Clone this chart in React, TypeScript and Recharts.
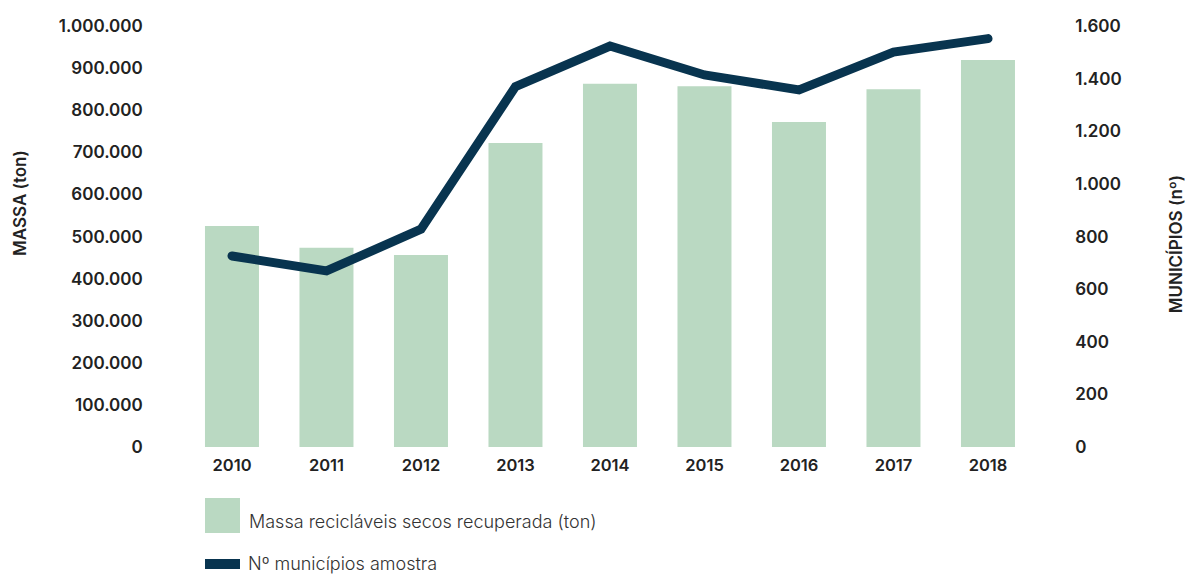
import React from 'react';
import { ComposedChart, Bar, Line, XAxis, YAxis, Legend } from 'recharts';

const years = ['2010', '2011', '2012', '2013', '2014', '2015', '2016', '2017', '2018'];
const massa = [525000, 473000, 456000, 722000, 863000, 857000, 772000, 850000, 919000];
const municipios = [726, 669, 828, 1370, 1524, 1414, 1357, 1501, 1552];
const leftTicks = [0, 100000, 200000, 300000, 400000, 500000, 600000, 700000, 800000, 900000, 1000000];
const rightTicks = [0, 200, 400, 600, 800, 1000, 1200, 1400, 1600];

const data = years.map((y, i) => ({ year: y, massa: massa[i], mun: municipios[i] }));

const BAR = '#bad9c2';
const LINE = '#08344f';
const FONT = 'Inter, "Noto Sans", sans-serif';

const fmt = (v: number) => v.toLocaleString('de-DE');

const renderLegend = () => (
  <div style={{ position: 'relative', width: 600, height: 76, fontFamily: FONT }}>
    <div style={{ position: 'absolute', left: 0, top: 0, width: 35, height: 35, background: BAR }} />
    <div style={{ position: 'absolute', left: 44, top: 12, fontSize: 18, fontWeight: 300, color: '#333', whiteSpace: 'nowrap', lineHeight: '24px' }}>
      Massa recicláveis secos recuperada (ton)
    </div>
    <div style={{ position: 'absolute', left: 0, top: 61, width: 35, height: 10, background: LINE }} />
    <div style={{ position: 'absolute', left: 43, top: 54, fontSize: 18, fontWeight: 300, color: '#333', whiteSpace: 'nowrap', lineHeight: '24px' }}>
      Nº municípios amostra
    </div>
  </div>
);

const LeftLabel = () => (
  <text x={20} y={203} transform="rotate(-90 20 203)" textAnchor="middle" dominantBaseline="central"
    style={{ fontFamily: FONT, fontSize: 17, fontWeight: 600, fill: '#222' }}>MASSA (ton)</text>
);
const RightLabel = () => (
  <text x={1176} y={244} transform="rotate(-90 1176 244)" textAnchor="middle" dominantBaseline="central"
    style={{ fontFamily: FONT, fontSize: 17, fontWeight: 600, fill: '#222' }}>MUNICÍPIOS (nº)</text>
);

export default function App() {
  const tickStyle = { fontFamily: FONT, fontSize: 17, fontWeight: 600, fill: '#222' };
  return (
    <div style={{ position: 'absolute', left: 0, top: 0, width: 1185, height: 574, overflow: 'hidden' }}>
      <ComposedChart width={1185} height={574} data={data}
        margin={{ top: 26, right: 49.75, bottom: 97, left: 84.75 }} barCategoryGap="21.4%">
        <XAxis dataKey="year" axisLine={false} tickLine={false} tickSize={0} tickMargin={12} height={30}
          tick={{ ...tickStyle, fontSize: 16.5 }} interval={0} />
        <YAxis yAxisId="l" orientation="left" width={100} domain={[0, 1000000]} ticks={leftTicks}
          tickFormatter={fmt} axisLine={false} tickLine={false} tickSize={0} tickMargin={42}
          tick={tickStyle} interval={0} label={<LeftLabel />} />
        <YAxis yAxisId="r" orientation="right" width={100} domain={[0, 1600]} ticks={rightTicks}
          tickFormatter={fmt} axisLine={false} tickLine={false} tickSize={0} tickMargin={40}
          tick={{ ...tickStyle, textAnchor: 'start' }} interval={0} label={<RightLabel />} />
        <Bar yAxisId="l" dataKey="massa" fill={BAR} isAnimationActive={false} />
        <Line yAxisId="r" dataKey="mun" stroke={LINE} strokeWidth={9} dot={false} strokeLinecap="round"
          strokeLinejoin="miter" isAnimationActive={false} type="linear" />
        <Legend layout="vertical" align="center" verticalAlign="middle" content={renderLegend}
          wrapperStyle={{ position: 'absolute', left: 205, top: 498, width: 600, height: 76 }} />
      </ComposedChart>
    </div>
  );
}
